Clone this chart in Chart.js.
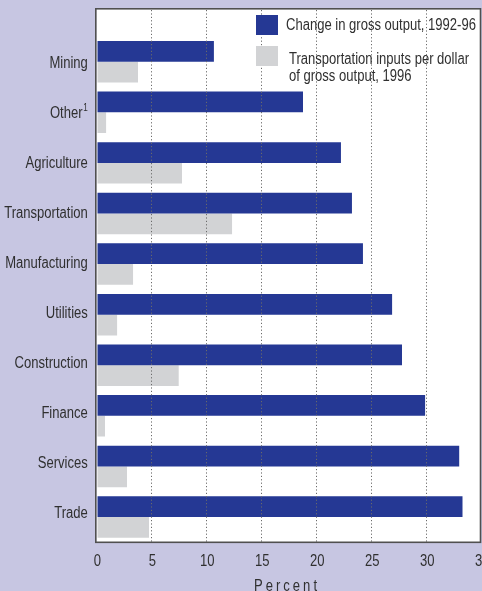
<!DOCTYPE html>
<html>
<head>
<meta charset="utf-8">
<script src="https://cdn.jsdelivr.net/npm/chart.js@4/dist/chart.umd.min.js"></script>
<style>
html, body { margin: 0; padding: 0; background: #c7c6e2; overflow: hidden; }
#wrap { width: 482px; height: 591px; overflow: hidden; }
canvas { display: block; }
</style>
</head>
<body>
<div id="wrap"><canvas id="chart" width="500" height="591"></canvas></div>
<script>
const categories = ['Mining', 'Other\u00b9', 'Agriculture', 'Transportation', 'Manufacturing',
    'Utilities', 'Construction', 'Finance', 'Services', 'Trade'];
const grossOutputChange = [10.6, 18.7, 22.15, 23.15, 24.15, 26.8, 27.7, 29.8, 32.9, 33.2];
const transportInputs = [3.7, 0.8, 7.7, 12.25, 3.25, 1.8, 7.4, 0.7, 2.7, 4.7];
const xTicks = [0, 5, 10, 15, 20, 25, 30, 35];
const seriesNames = ['Change in gross output, 1992-96', 'Transportation inputs per dollar of gross output, 1996'];
const legendLines = [['Change in gross output, 1992-96'], ['Transportation inputs per dollar', 'of gross output, 1996']];
const axisTitle = 'Percent';

const FONT = "'Liberation Sans', Arial, sans-serif";
const SX = 0.815; // squeeze text to look like the condensed face
const TEXT = '#303030';
const BLUE = '#253894';
const GRAY = '#d2d3d5';

// draws narrow text; a trailing ¹ becomes a small raised 1
function narrowText(ctx, text, x, y, align, size) {
    ctx.save();
    ctx.translate(x, y);
    ctx.scale(SX, 1);
    ctx.font = size + 'px ' + FONT;
    let sup = '';
    if (text.endsWith('\u00b9')) { sup = '1'; text = text.slice(0, -1); }
    const supW = sup ? (ctx.measureText(sup).width * 0.62 + 1) : 0;
    const w = ctx.measureText(text).width + supW;
    let x0 = align === 'right' ? -w : align === 'center' ? -w / 2 : 0;
    ctx.textAlign = 'left';
    ctx.fillText(text, x0, 0);
    if (sup) {
        ctx.font = Math.round(size * 0.62) + 'px ' + FONT;
        ctx.fillText(sup, x0 + w - supW + 1, -size * 0.42);
    }
    ctx.restore();
}

const framePlugin = {
    id: 'frame',
    beforeDraw(chart) {
        const { ctx, chartArea } = chart;
        ctx.save();
        ctx.fillStyle = '#fff';
        ctx.fillRect(chartArea.left - 1, 9, 480.5 - chartArea.left + 1, chartArea.bottom - 9);
        ctx.restore();
    },
    afterDatasetsDraw(chart) {
        const { ctx, chartArea } = chart;
        const x = chart.scales.x;
        ctx.save();
        ctx.strokeStyle = '#6a6a6a';
        ctx.lineWidth = 1;
        ctx.setLineDash([1.2, 2.2]);
        xTicks.filter(v => v > 0 && v < 35).forEach(v => {
            const px = Math.round(x.getPixelForValue(v)) - 0.5;
            ctx.beginPath();
            ctx.moveTo(px, 10);
            ctx.lineTo(px, chartArea.bottom);
            ctx.stroke();
        });
        ctx.restore();
    },
    afterDraw(chart) {
        const { ctx, chartArea } = chart;
        const xs = chart.scales.x, ys = chart.scales.y;
        ctx.save();
        ctx.fillStyle = TEXT;
        ctx.textBaseline = 'alphabetic';

        // tick labels, placed by the scales (the original labels drift up a little)
        categories.forEach((c, i) => {
            narrowText(ctx, c, chartArea.left - 9.5, ys.getPixelForTick(i) + 6.2 - i * 0.55, 'right', 16);
        });
        xTicks.forEach(v => {
            narrowText(ctx, String(v), xs.getPixelForValue(v), 566, 'center', 16);
        });

        // legend
        const colors = chart.data.datasets.map(d => d.backgroundColor);
        const boxes = [15, 46];
        legendLines.forEach((lines, i) => {
            ctx.fillStyle = colors[i];
            ctx.fillRect(256, boxes[i], 22, 20);
            ctx.fillStyle = TEXT;
            lines.forEach((t, j) => {
                narrowText(ctx, t, i === 0 ? 286 : 289, (i === 0 ? 29.5 : 64) + j * 17, 'left', 16);
            });
        });

        // frame
        ctx.strokeStyle = '#505050';
        ctx.lineWidth = 1.6;
        ctx.strokeRect(chartArea.left - 1.5, 8.8, 480.5 - chartArea.left + 1.5, chartArea.bottom - 8.8);

        // axis title
        ctx.save();
        ctx.translate(287, 590.5);
        ctx.scale(SX, 1);
        ctx.font = '16px ' + FONT;
        ctx.letterSpacing = '3.7px';
        ctx.textAlign = 'center';
        ctx.fillStyle = TEXT;
        ctx.fillText(axisTitle, 0, 0);
        ctx.restore();

        ctx.restore();
    }
};

new Chart(document.getElementById('chart'), {
    type: 'bar',
    data: {
        labels: categories,
        datasets: [
            { label: seriesNames[0], data: grossOutputChange, backgroundColor: BLUE },
            { label: seriesNames[1], data: transportInputs, backgroundColor: GRAY }
        ]
    },
    options: {
        indexAxis: 'y',
        responsive: false,
        animation: false,
        devicePixelRatio: 1,
        layout: { padding: { top: 36.4, right: 17.7, bottom: 0, left: 0 } },
        datasets: { bar: { barPercentage: 1, categoryPercentage: 0.82, borderWidth: 0 } },
        plugins: { legend: { display: false }, tooltip: { enabled: false } },
        scales: {
            x: {
                min: 0, max: 35,
                afterBuildTicks: s => { s.ticks = xTicks.map(v => ({ value: v })); },
                afterFit: s => { s.height = 48.7; },
                grid: { display: false, drawTicks: false },
                border: { display: false },
                ticks: { display: false }
            },
            y: {
                afterFit: s => { s.width = 97.3; },
                grid: { display: false, drawTicks: false },
                border: { display: false },
                ticks: { display: false }
            }
        }
    },
    plugins: [framePlugin]
});
</script>
</body>
</html>
